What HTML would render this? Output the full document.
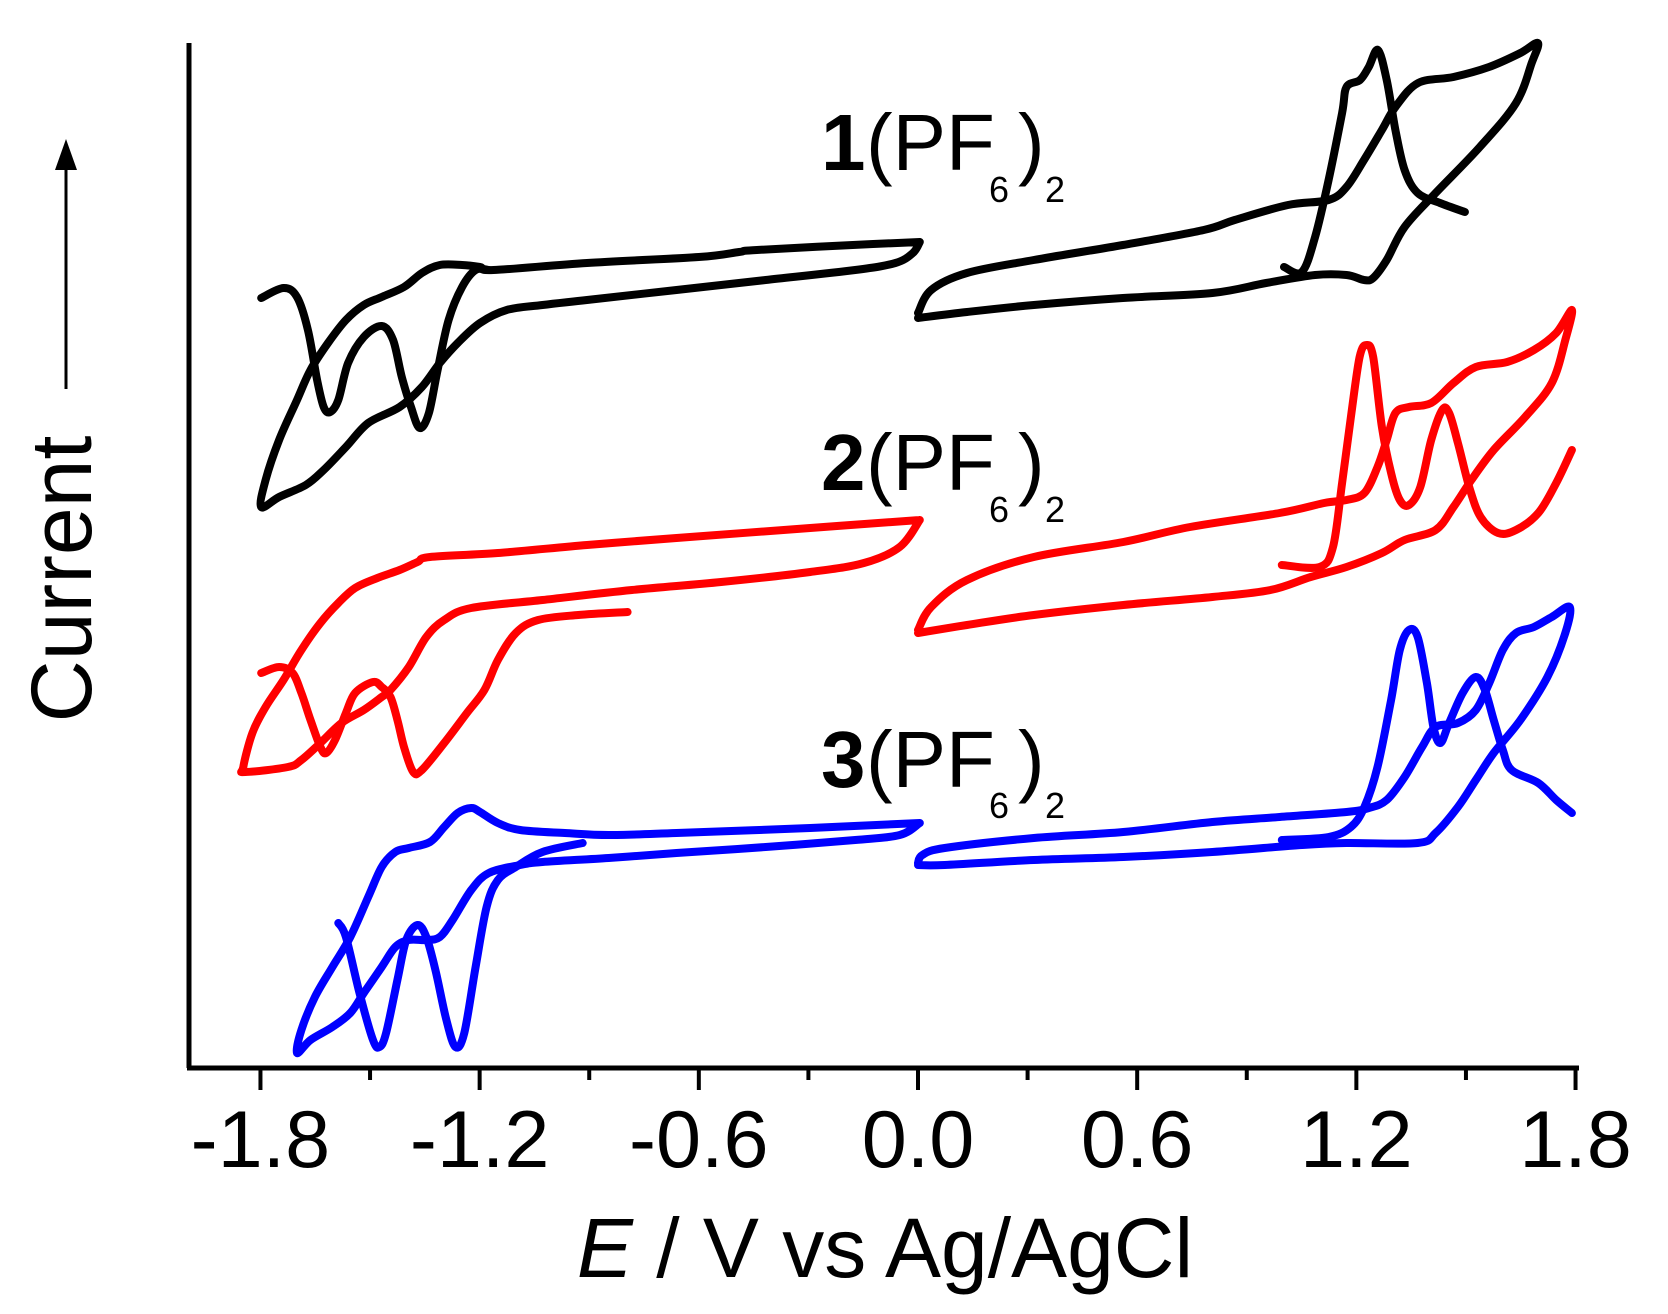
<!DOCTYPE html>
<html><head><meta charset="utf-8"><style>
html,body{margin:0;padding:0;background:#fff;}
svg{display:block;font-family:"Liberation Sans",Arial,sans-serif;}
</style></head><body>
<svg id="chart" width="1668" height="1314" viewBox="0 0 1668 1314" xmlns="http://www.w3.org/2000/svg">
<g id="axes"></g>
<g id="series"></g>
<g>
<text x="821" y="170" font-size="80" font-weight="bold">1</text><text x="866" y="170" font-size="80">(PF</text><text x="989" y="202" font-size="36">6</text><text x="1018" y="170" font-size="80">)</text><text x="1045" y="202" font-size="36">2</text>
</g>
<g>
<text x="821" y="490" font-size="80" font-weight="bold">2</text><text x="866" y="490" font-size="80">(PF</text><text x="989" y="522" font-size="36">6</text><text x="1018" y="490" font-size="80">)</text><text x="1045" y="522" font-size="36">2</text>
</g>
<g>
<text x="821" y="787" font-size="80" font-weight="bold">3</text><text x="866" y="787" font-size="80">(PF</text><text x="989" y="818" font-size="36">6</text><text x="1018" y="787" font-size="80">)</text><text x="1045" y="818" font-size="36">2</text>
</g>
<text x="885" y="1277" font-size="84" text-anchor="middle"><tspan font-style="italic">E</tspan> / V vs Ag/AgCl</text>
<text x="0" y="0" font-size="86" text-anchor="middle" transform="translate(91,579) rotate(-90)">Current</text>
<g>
<line x1="66" y1="389" x2="66" y2="165" stroke="#000" stroke-width="3"/>
<polygon points="66,139 55,170 77,170" fill="#000"/>
</g>
</svg>
<script>
const xTicksMajor = [-1.8, -1.2, -0.6, 0.0, 0.6, 1.2, 1.8];
const xTickLabels = ["-1.8", "-1.2", "-0.6", "0.0", "0.6", "1.2", "1.8"];
const xTicksMinor = [-1.5, -0.9, -0.3, 0.3, 0.9, 1.5];

const black_left_cv = [[0.005,828],[-0.123,826],[-0.441,820],[-0.490,818],[-0.600,813],[-0.906,807],[-1.162,800],[-1.199,803],[-1.248,805],[-1.309,805],[-1.358,797],[-1.407,783],[-1.468,773],[-1.517,765],[-1.566,750],[-1.615,727],[-1.663,700],[-1.700,670],[-1.749,630],[-1.786,590],[-1.798,563],[-1.749,573],[-1.676,585],[-1.627,600],[-1.566,623],[-1.505,647],[-1.419,663],[-1.358,683],[-1.309,707],[-1.260,727],[-1.199,747],[-1.126,760],[-1.028,765],[-0.906,770],[-0.661,780],[-0.417,790],[-0.172,800],[-0.062,807],[-0.014,817],[0.005,828]];
const black_left_dpv = [[-1.798,772],[-1.737,782],[-1.700,773],[-1.670,740],[-1.645,690],[-1.627,663],[-1.609,658],[-1.587,670],[-1.560,707],[-1.517,733],[-1.468,744],[-1.437,730],[-1.413,693],[-1.388,663],[-1.364,642],[-1.339,657],[-1.315,700],[-1.285,750],[-1.248,783],[-1.211,800],[-1.175,800]];
const black_right_cv = [[0.000,757],[0.036,780],[0.134,797],[0.317,810],[0.561,825],[0.782,840],[0.867,850],[1.013,865],[1.124,870],[1.173,883],[1.221,910],[1.270,940],[1.307,963],[1.369,987],[1.466,993],[1.563,1003],[1.649,1017],[1.697,1027],[1.680,1007],[1.637,967],[1.538,923],[1.417,877],[1.332,843],[1.283,810],[1.246,792],[1.221,790],[1.173,795],[1.087,795],[0.953,787],[0.806,777],[0.561,772],[0.317,765],[0.134,758],[0.000,752]];
const black_right_dpv = [[1.002,803],[1.051,798],[1.087,833],[1.124,890],[1.161,957],[1.173,983],[1.210,990],[1.234,1003],[1.259,1020],[1.283,990],[1.307,940],[1.332,900],[1.368,877],[1.429,867],[1.497,858]];

const red_left_cv = [[0.005,550],[-0.295,542],[-0.661,532],[-0.906,525],[-1.150,517],[-1.336,513],[-1.370,508],[-1.419,500],[-1.480,492],[-1.541,482],[-1.587,467],[-1.636,447],[-1.688,420],[-1.737,390],[-1.786,363],[-1.822,337],[-1.847,303],[-1.841,298],[-1.725,303],[-1.688,310],[-1.636,327],[-1.578,347],[-1.517,360],[-1.468,373],[-1.444,380],[-1.394,403],[-1.346,433],[-1.297,450],[-1.223,462],[-1.028,470],[-0.783,480],[-0.539,488],[-0.295,498],[-0.148,507],[-0.050,523],[0.005,550]];
const red_left_dpv = [[-1.798,397],[-1.749,403],[-1.712,397],[-1.688,377],[-1.663,350],[-1.636,323],[-1.620,317],[-1.596,330],[-1.566,357],[-1.541,377],[-1.492,388],[-1.468,383],[-1.444,373],[-1.425,350],[-1.407,323],[-1.382,298],[-1.358,300],[-1.297,327],[-1.235,357],[-1.187,380],[-1.150,410],[-1.101,437],[-1.040,450],[-0.930,455],[-0.795,458]];
const red_right_cv = [[0.000,440],[0.036,463],[0.134,490],[0.317,513],[0.562,528],[0.745,543],[0.990,557],[1.112,567],[1.173,570],[1.222,577],[1.258,603],[1.283,630],[1.307,657],[1.344,663],[1.405,667],[1.466,687],[1.527,703],[1.613,708],[1.686,720],[1.747,737],[1.790,760],[1.772,730],[1.735,687],[1.662,653],[1.576,620],[1.515,590],[1.466,563],[1.417,540],[1.332,530],[1.270,517],[1.173,503],[1.075,493],[0.965,480],[0.806,473],[0.562,465],[0.317,455],[0.134,445],[0.000,437]];
const red_right_dpv = [[0.996,505],[1.099,503],[1.136,523],[1.161,587],[1.185,653],[1.209,713],[1.228,725],[1.246,713],[1.270,643],[1.295,597],[1.319,570],[1.344,565],[1.375,583],[1.405,630],[1.435,660],[1.454,657],[1.478,627],[1.509,583],[1.540,553],[1.588,537],[1.637,540],[1.698,557],[1.747,587],[1.790,620]];

const blue_left_cv = [[0.005,247],[-0.295,242],[-0.661,237],[-0.847,235],[-0.967,237],[-1.089,240],[-1.150,247],[-1.199,258],[-1.223,262],[-1.260,257],[-1.297,243],[-1.336,228],[-1.394,222],[-1.431,218],[-1.468,203],[-1.505,173],[-1.554,133],[-1.603,103],[-1.651,73],[-1.688,40],[-1.700,17],[-1.663,30],[-1.603,43],[-1.554,57],[-1.517,77],[-1.468,103],[-1.431,123],[-1.394,130],[-1.346,130],[-1.309,133],[-1.274,150],[-1.223,180],[-1.175,197],[-1.089,205],[-1.028,208],[-0.847,212],[-0.661,217],[-0.417,223],[-0.172,230],[-0.050,235],[0.005,247]];
const blue_left_dpv = [[-1.587,147],[-1.566,133],[-1.529,77],[-1.492,30],[-1.474,23],[-1.456,37],[-1.425,90],[-1.401,130],[-1.370,145],[-1.346,133],[-1.321,100],[-1.291,50],[-1.266,23],[-1.242,37],[-1.211,103],[-1.181,163],[-1.150,190],[-1.101,203],[-1.028,218],[-0.918,227]];
const blue_right_cv = [[0.000,207],[0.012,215],[0.073,222],[0.317,232],[0.562,238],[0.806,248],[0.990,253],[1.173,258],[1.234,262],[1.283,270],[1.332,293],[1.380,323],[1.417,343],[1.478,347],[1.527,360],[1.564,387],[1.601,420],[1.637,437],[1.686,443],[1.735,453],[1.784,463],[1.772,437],[1.723,393],[1.649,350],[1.576,317],[1.527,290],[1.478,263],[1.417,237],[1.368,227],[1.173,227],[1.051,225],[0.806,218],[0.562,213],[0.317,210],[0.073,205],[0.000,205]];
const blue_right_dpv = [[0.996,230],[1.124,233],[1.185,243],[1.222,263],[1.258,303],[1.295,370],[1.319,420],[1.344,440],[1.368,433],[1.393,387],[1.411,343],[1.430,327],[1.454,347],[1.491,377],[1.527,393],[1.552,380],[1.576,350],[1.601,320],[1.625,300],[1.698,287],[1.747,270],[1.790,257]];

const NS = "http://www.w3.org/2000/svg";
function xScale(v){ return 918 + v * 365.3; }
function yScale(i){ return 1070 - i; }

const axes = document.getElementById('axes');
function mk(tag, attrs, parent){
  const el = document.createElementNS(NS, tag);
  for (const k in attrs) el.setAttribute(k, attrs[k]);
  parent.appendChild(el);
  return el;
}
const yAxis = mk('line', {x1:189, y1:43, x2:189, y2:1068, stroke:'#000', 'stroke-width':5}, axes);


const xAxis = mk('line', {x1:187, y1:1068, x2:1579, y2:1068, stroke:'#000', 'stroke-width':5}, axes);


xTicksMajor.forEach((v, k) => {
  const t = mk('line', {x1:xScale(v), y1:1068, x2:xScale(v), y2:1090, stroke:'#000', 'stroke-width':4}, axes);
  
  
  const lb = mk('text', {x:xScale(v), y:1167, 'font-size':81, 'text-anchor':'middle'}, axes);
  lb.textContent = xTickLabels[k];
  
  
});
xTicksMinor.forEach(v => {
  const t = mk('line', {x1:xScale(v), y1:1068, x2:xScale(v), y2:1080, stroke:'#000', 'stroke-width':4}, axes);
  
  
});

const series = document.getElementById('series');
function draw(data, color, name){
  const pts = data.map(p => [xScale(p[0]), yScale(p[1])]);
  let d = 'M' + pts[0][0].toFixed(1) + ' ' + pts[0][1].toFixed(1);
  for (let k = 0; k < pts.length - 1; k++) {
    const p0 = pts[Math.max(0, k - 1)], p1 = pts[k], p2 = pts[k + 1], p3 = pts[Math.min(pts.length - 1, k + 2)];
    const c1x = p1[0] + (p2[0] - p0[0]) / 6, c1y = p1[1] + (p2[1] - p0[1]) / 6;
    const c2x = p2[0] - (p3[0] - p1[0]) / 6, c2y = p2[1] - (p3[1] - p1[1]) / 6;
    d += ' C' + c1x.toFixed(1) + ' ' + c1y.toFixed(1) + ' ' + c2x.toFixed(1) + ' ' + c2y.toFixed(1) + ' ' + p2[0].toFixed(1) + ' ' + p2[1].toFixed(1);
  }
  const path = mk('path', {d:d, fill:'none', stroke:color, 'stroke-width':8, 'stroke-linejoin':'round', 'stroke-linecap':'round'}, series);
  
  
}
draw(black_left_cv, '#000', 'series-1-cv-cathodic');
draw(black_left_dpv, '#000', 'series-1-dpv-cathodic');
draw(black_right_cv, '#000', 'series-1-cv-anodic');
draw(black_right_dpv, '#000', 'series-1-dpv-anodic');
draw(red_left_cv, '#ff0000', 'series-2-cv-cathodic');
draw(red_left_dpv, '#ff0000', 'series-2-dpv-cathodic');
draw(red_right_cv, '#ff0000', 'series-2-cv-anodic');
draw(red_right_dpv, '#ff0000', 'series-2-dpv-anodic');
draw(blue_left_cv, '#0000ff', 'series-3-cv-cathodic');
draw(blue_left_dpv, '#0000ff', 'series-3-dpv-cathodic');
draw(blue_right_cv, '#0000ff', 'series-3-cv-anodic');
draw(blue_right_dpv, '#0000ff', 'series-3-dpv-anodic');
</script>
</body></html>
